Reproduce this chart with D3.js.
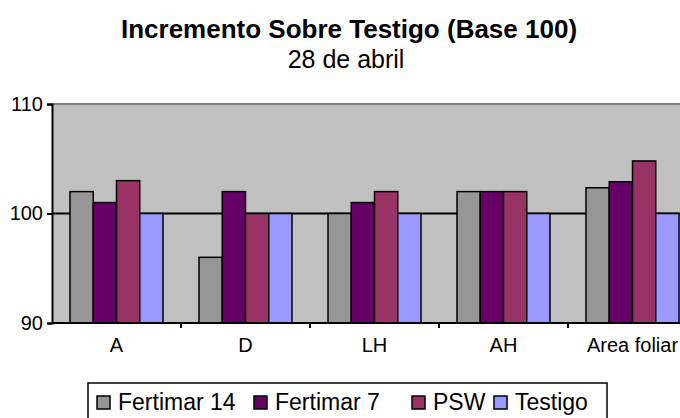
<!DOCTYPE html>
<html>
<head>
<meta charset="utf-8">
<script src="https://d3js.org/d3.v7.min.js"></script>
<style>
  body { margin: 0; background: #fff; }
  svg { display: block; font-family: "Liberation Sans", Arial, sans-serif; }
</style>
</head>
<body>
<script>
const categories = ['A', 'D', 'LH', 'AH', 'Area foliar']
const seriesNames = ['Fertimar 14', 'Fertimar 7', 'PSW', 'Testigo']
const fertimar14 = [102, 96, 100, 102, 102.35]
const fertimar7 = [101, 102, 101, 102, 102.9]
const psw = [103, 100, 102, 102, 104.8]
const testigo = [100, 100, 100, 100, 100]
const yTicks = [90, 100, 110]
const colors = ['#969696', '#660066', '#993366', '#9999FF']

const seriesValues = [fertimar14, fertimar7, psw, testigo]

const svg = d3.select('body').append('svg')
  .attr('width', 680).attr('height', 418)

const plot = { left: 52, right: 697, top: 104, bottom: 323 }

const xScale = d3.scaleBand().domain(categories).range([plot.left, plot.right])
const inner = d3.scaleBand().domain(seriesNames).range([18, 111])
const yScale = d3.scaleLinear().domain([90, 110]).range([plot.bottom, plot.top])

// titles
svg.append('text')
  .attr('x', 349).attr('y', 38)
  .attr('text-anchor', 'middle')
  .style('font-weight', 'bold').style('font-size', '26px')
  .text('Incremento Sobre Testigo (Base 100)')
svg.append('text')
  .attr('x', 346).attr('y', 68)
  .attr('text-anchor', 'middle')
  .style('font-size', '25px')
  .text('28 de abril')

// plot area
svg.append('rect')
  .attr('x', plot.left).attr('y', plot.top)
  .attr('width', plot.right - plot.left).attr('height', plot.bottom - plot.top)
  .attr('fill', '#C0C0C0')
svg.append('line')
  .attr('x1', plot.left).attr('x2', plot.right)
  .attr('y1', plot.top).attr('y2', plot.top)
  .attr('stroke', '#808080').attr('stroke-width', 2)

// base line at 100
svg.append('line')
  .attr('x1', plot.left).attr('x2', plot.right)
  .attr('y1', yScale(100)).attr('y2', yScale(100))
  .attr('stroke', '#000').attr('stroke-width', 2)

// bars
const bars = []
categories.forEach((c, i) => {
  seriesNames.forEach((s, j) => {
    bars.push({ cat: c, series: s, value: seriesValues[j][i], color: colors[j] })
  })
})
svg.selectAll('.bar')
  .data(bars).enter()
  .append('rect')
    .attr('class', 'bar')
    .attr('x', d => xScale(d.cat) + inner(d.series))
    .attr('y', d => yScale(d.value))
    .attr('width', inner.bandwidth())
    .attr('height', d => plot.bottom - yScale(d.value))
    .attr('fill', d => d.color)
    .attr('stroke', '#000').attr('stroke-width', 1.5)

// axes
const yAxis = d3.axisLeft(yScale).tickValues(yTicks).tickSize(5).tickPadding(4)
const gy = svg.append('g').attr('transform', `translate(${plot.left}, 0)`).call(yAxis)
gy.select('.domain').attr('stroke-width', 2)
gy.selectAll('.tick line').attr('stroke-width', 2)
gy.selectAll('text').style('font-size', '20px').attr('fill', '#000')

const gx = svg.append('g').attr('transform', `translate(0, ${plot.bottom})`)
gx.append('line')
  .attr('x1', plot.left).attr('x2', plot.right)
  .attr('stroke', '#000').attr('stroke-width', 2)
gx.selectAll('.xtick')
  .data(categories.slice(1)).enter()
  .append('line')
    .attr('class', 'xtick')
    .attr('x1', d => xScale(d)).attr('x2', d => xScale(d))
    .attr('y1', 0).attr('y2', 5)
    .attr('stroke', '#000').attr('stroke-width', 2)
gx.selectAll('.xlabel')
  .data(categories).enter()
  .append('text')
    .attr('class', 'xlabel')
    .attr('x', d => xScale(d) + xScale.bandwidth() / 2)
    .attr('y', 29)
    .attr('text-anchor', 'middle')
    .style('font-size', '20px')
    .text(d => d)

// legend
const legend = svg.append('g')
legend.append('rect')
  .attr('x', 88).attr('y', 383).attr('width', 519).attr('height', 50)
  .attr('fill', '#fff').attr('stroke', '#000').attr('stroke-width', 1.5)
const legendX = [97, 254, 412, 494]
const items = legend.selectAll('.item')
  .data(seriesNames).enter()
  .append('g')
    .attr('class', 'item')
    .attr('transform', (d, i) => `translate(${legendX[i]}, 396)`)
items.append('rect')
  .attr('width', 13).attr('height', 13)
  .attr('fill', (d, i) => colors[i])
  .attr('stroke', '#000').attr('stroke-width', 1.5)
items.append('text')
  .attr('x', 21).attr('y', 14)
  .style('font-size', '23px')
  .text(d => d)
</script>
</body>
</html>
